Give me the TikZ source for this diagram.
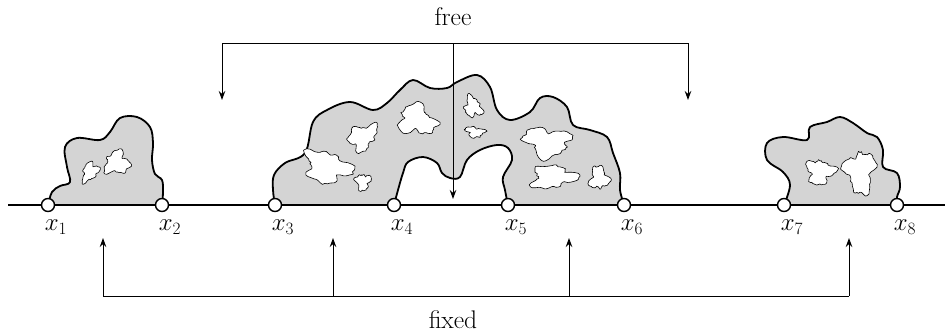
\documentclass[tikz,border=0pt]{standalone}
\usetikzlibrary{arrows.meta}
\tikzset{
  ax/.style={line width=1.5pt},
  blob/.style={fill=black!17, draw=black, line width=1.8pt, line join=round},
  holestyle/.style={fill=white, draw=black, line width=0.6pt, line join=round},
  pt/.style={circle, draw, fill=white, line width=1.4pt, inner sep=0pt, minimum size=13pt},
  lab/.style={font=\fontsize{25.5}{30}\selectfont, inner sep=0pt},
  conn/.style={line width=1pt, line join=miter},
  arr/.style={conn, -{Stealth[length=9pt, width=6.5pt]}}
}
\newcommand{\myhole}[5]{%
  \pgfmathsetmacro{\pha}{360*rnd}%
  \pgfmathsetmacro{\phb}{360*rnd}%
  \pgfmathsetmacro{\phc}{360*rnd}%
  \draw[holestyle, shift={(#1,#2)}, rotate=#5] plot[smooth cycle, tension=0.45, domain=0:354, samples=60]
    ({#3*(1+0.22*sin(3*\x+\pha)+0.14*sin(5*\x+\phb)+0.08*sin(9*\x+\phc)+0.12*rnd-0.06)*cos(\x)},
     {#4*(1+0.22*sin(3*\x+\pha)+0.14*sin(5*\x+\phb)+0.08*sin(9*\x+\phc)+0.12*rnd-0.06)*sin(\x)});
}
\begin{document}
\begin{tikzpicture}[x=1pt, y=-1pt]
\pgfmathsetseed{5}
\useasboundingbox (0,0) rectangle (945,335);

% blobs
\draw[blob] plot[smooth, tension=0.6] coordinates {(48,205) (52,192) (60,186) (70,182) (67,167) (65,147) (77,138) (100,140) (110,132) (120,118) (137,117) (150,127) (153,143) (152,160) (155,174) (162,180) (163,192) (162,205)} -- cycle;
\draw[blob] plot[smooth, tension=0.6] coordinates {(275,205) (273,190) (274,175) (285,163) (305,153) (313,122) (327,110) (350,102) (373,110) (387,103) (400,90) (413,80) (430,88) (447,88) (457,82) (477,75) (490,87) (497,110) (510,120) (530,112) (540,98) (553,97) (567,107) (573,125) (590,130) (607,137) (613,153) (620,173) (620,190) (624,205)}
  -- plot[smooth, tension=0.6] coordinates {(508,205) (505,190) (503,177) (512,160) (508,148) (497,145) (480,150) (467,160) (460,177) (450,178) (442,173) (437,163) (423,157) (408,162) (403,173) (398,190) (394,205)} -- cycle;
\draw[blob] plot[smooth, tension=0.6] coordinates {(784,205) (790,185) (783,172) (767,160) (767,143) (783,137) (807,140) (810,127) (827,122) (840,117) (853,123) (867,133) (877,137) (883,150) (883,167) (897,173) (900,187) (897,197) (897,205)} -- cycle;

% holes
\myhole{90}{172}{7}{10}{-30}
\myhole{117}{163}{12}{11}{10}
\myhole{327}{167}{22}{15}{-15}
\myhole{363}{182}{7}{8}{0}
\myhole{363}{137}{15}{11}{35}
\myhole{417}{120}{18}{14}{-20}
\myhole{473}{107}{8}{10}{20}
\myhole{475}{132}{9}{5}{-10}
\myhole{547}{142}{22}{14}{-10}
\myhole{553}{177}{21}{11}{5}
\myhole{599}{178}{9}{11}{0}
\myhole{820}{172}{13}{12}{0}
\myhole{860}{172}{14}{20}{0}

% axis
\coordinate (axL) at (8,205);
\coordinate (axR) at (945,205);
\draw[ax] (axL) -- (axR);

% points and labels
\foreach \i/\xx in {1/48, 2/162, 3/275, 4/394, 5/508, 6/624, 7/784, 8/897} {
  \node[pt] (p\i) at (\xx,205) {};
  \node[lab] (l\i) at (\xx+8,227) {$x_{\i}$};
}

% free bracket
\node[lab] (free) at (453,17) {free};
\coordinate (tC) at (453,43);
\coordinate (aL) at (222,100);
\coordinate (aR) at (688,100);
\coordinate (aC) at (453,199);
\draw[arr] (tC) -| (aL);
\draw[arr] (tC) -| (aR);
\draw[arr] (tC) -- (aC);

% fixed bracket
\node[lab] (fixed) at (453,320) {fixed};
\coordinate (bL) at (103,296);
\coordinate (bR) at (849,296);
\coordinate (b2) at (333,296);
\coordinate (b3) at (569,296);
\coordinate (u1) at (103,238);
\coordinate (u2) at (333,238);
\coordinate (u3) at (569,238);
\coordinate (u4) at (849,238);
\draw[conn] (bL) -- (bR);
\draw[arr] (bL) -- (u1);
\draw[arr] (b2) -- (u2);
\draw[arr] (b3) -- (u3);
\draw[arr] (bR) -- (u4);
\end{tikzpicture}
\end{document}
